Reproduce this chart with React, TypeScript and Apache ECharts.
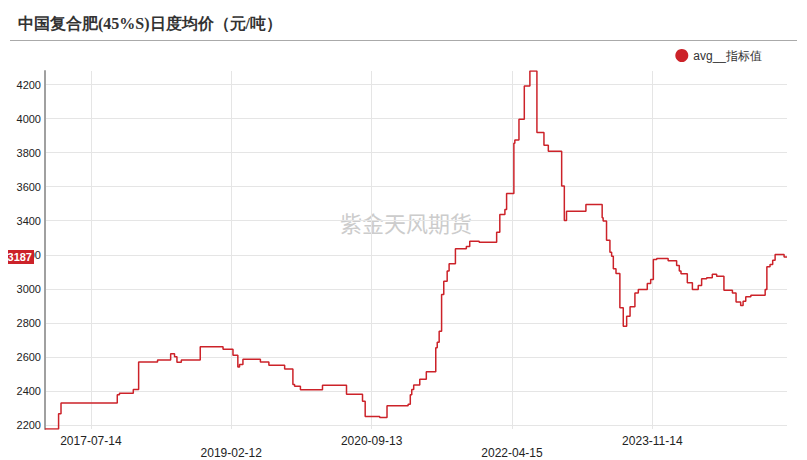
import React, { useEffect, useRef } from 'react';
import * as echarts from 'echarts';

const titleText = '中国复合肥(45%S)日度均价（元/吨）';
const seriesName = 'avg__指标值';
const watermarkText = '紫金天风期货';
const lastValue = 3187;

// change points (value holds until next date)
const dates: string[] = [
  '2017-01-06', '2017-03-03', '2017-03-13', '2017-10-31', '2017-11-09', '2018-01-05', '2018-01-27',
  '2018-04-15', '2018-06-08', '2018-06-24', '2018-07-04', '2018-07-22', '2018-10-08', '2019-01-10',
  '2019-02-20', '2019-03-12', '2019-03-19', '2019-04-02', '2019-06-13', '2019-07-18', '2019-09-21',
  '2019-10-25', '2019-11-01', '2019-11-25', '2020-02-24', '2020-06-02', '2020-08-07', '2020-08-18',
  '2020-10-17', '2020-11-16', '2021-02-11', '2021-02-20', '2021-02-26', '2021-03-06', '2021-03-31',
  '2021-04-27', '2021-06-05', '2021-06-11', '2021-06-19', '2021-06-29', '2021-07-08', '2021-07-22',
  '2021-07-30', '2021-08-25', '2021-10-09', '2021-10-23', '2021-12-01', '2022-02-11', '2022-02-24',
  '2022-03-17', '2022-03-24', '2022-04-23', '2022-04-27', '2022-05-14', '2022-06-05', '2022-06-28',
  '2022-07-27', '2022-08-25', '2022-09-12', '2022-11-06', '2022-11-17', '2022-11-26', '2023-02-14',
  '2023-04-22', '2023-04-26', '2023-05-10', '2023-05-24', '2023-05-31', '2023-06-07', '2023-06-18',
  '2023-07-04', '2023-07-18', '2023-08-01', '2023-08-15', '2023-09-04', '2023-09-18', '2023-10-25',
  '2023-11-08', '2023-11-19', '2023-12-03', '2024-01-19', '2024-02-23', '2024-03-05', '2024-03-12',
  '2024-04-07', '2024-04-28', '2024-05-22', '2024-06-05', '2024-06-26', '2024-07-19', '2024-08-06',
  '2024-09-05', '2024-10-10', '2024-10-25', '2024-11-13', '2024-11-23', '2024-12-04', '2024-12-25',
  '2025-02-22', '2025-03-01', '2025-03-14', '2025-03-25', '2025-04-04', '2025-05-11', '2025-05-23',
];

const values: number[] = [
  2176, 2265, 2329, 2378, 2386, 2408, 2570,
  2582, 2618, 2600, 2568, 2582, 2660, 2645,
  2610, 2541, 2555, 2586, 2570, 2551, 2529,
  2437, 2427, 2406, 2433, 2380, 2339, 2249,
  2243, 2313, 2321, 2378, 2408, 2435, 2468,
  2512, 2653, 2686, 2751, 2967, 3045, 3104,
  3147, 3235, 3248, 3280, 3274, 3333, 3437,
  3466, 3560, 3855, 3874, 3996, 4192, 4280,
  3918, 3843, 3808, 3604, 3402, 3456, 3496,
  3418, 3398, 3286, 3215, 3192, 3118, 3090,
  2888, 2780, 2839, 2894, 2976, 2996, 3031,
  3055, 3172, 3178, 3165, 3137, 3104, 3088,
  3035, 2996, 3019, 3059, 3065, 3086, 3074,
  2992, 2976, 2922, 2902, 2927, 2953, 2962,
  2996, 3129, 3143, 3168, 3202, 3187, 3187,
];

const pad = (n: number) => (n < 10 ? '0' + n : '' + n);
const fmtDate = (ms: number) => {
  const d = new Date(ms);
  return d.getUTCFullYear() + '-' + pad(d.getUTCMonth() + 1) + '-' + pad(d.getUTCDate());
};

const X_INTERVAL = 5e10;

export default function App() {
  const ref = useRef<HTMLDivElement>(null);
  useEffect(() => {
    if (!ref.current) return;
    const chart = echarts.init(ref.current, undefined, { renderer: 'svg' });
    const data = dates.map((d, i) => [Date.parse(d + 'T00:00:00Z'), values[i]]);
    chart.setOption({
      animation: false,
      backgroundColor: '#fff',
      textStyle: { fontFamily: 'Arial, "Liberation Sans", sans-serif' },
      title: {
        text: titleText,
        left: 13,
        top: 10,
        textStyle: { fontSize: 16, fontWeight: 'bold', color: '#333', fontFamily: 'serif' },
      },
      legend: {
        right: 40,
        top: 44,
        icon: 'circle',
        itemWidth: 13,
        itemHeight: 13,
        itemGap: 10,
        textStyle: { fontSize: 12, color: '#333' },
        data: [seriesName],
      },
      graphic: [
        {
          type: 'line',
          shape: { x1: 10, y1: 40.5, x2: 797, y2: 40.5 },
          style: { stroke: '#aaa', lineWidth: 1 },
          silent: true,
        },
        {
          type: 'text',
          x: 406,
          y: 222,
          z: 0,
          silent: true,
          style: {
            text: watermarkText,
            fill: '#cccccc',
            font: '22px "Noto Sans CJK SC", sans-serif',
            textAlign: 'center',
            textVerticalAlign: 'middle',
          },
        },
      ],
      grid: { left: 45, right: 20, top: 71, bottom: 31, containLabel: false },
      xAxis: {
        type: 'value',
        min: 'dataMin',
        max: 'dataMax',
        minInterval: X_INTERVAL,
        maxInterval: X_INTERVAL,
        axisLine: { show: false },
        axisTick: { show: false },
        splitLine: { show: true, showMinLine: false, showMaxLine: false, lineStyle: { color: '#e5e5e5', width: 1 } },
        axisLabel: {
          showMinLabel: false,
          showMaxLabel: false,
          margin: 6,
          fontSize: 12,
          lineHeight: 12,
          color: '#222',
          formatter: (v: number) => {
            const k = Math.round(v / X_INTERVAL);
            return (k % 2 === 1 ? '\n' : '') + fmtDate(v);
          },
        },
      },
      yAxis: {
        type: 'value',
        min: 'dataMin',
        max: 'dataMax',
        minInterval: 200,
        maxInterval: 200,
        axisLine: { show: true, lineStyle: { color: '#a0a0a0', width: 2 } },
        axisTick: { show: false },
        splitLine: { show: true, showMinLine: false, showMaxLine: false, lineStyle: { color: '#e5e5e5', width: 1 } },
        axisLabel: {
          showMinLabel: false,
          showMaxLabel: false,
          margin: 4,
          fontSize: 11,
          color: '#222',
          formatter: (v: number) => String(v),
        },
      },
      series: [
        {
          name: seriesName,
          type: 'line',
          step: 'end',
          data,
          showSymbol: false,
          symbol: 'none',
          z: 3,
          itemStyle: { color: '#cc2229' },
          lineStyle: { color: '#cc2229', width: 1.5 },
          markLine: {
            silent: true,
            symbol: 'none',
            lineStyle: { color: 'rgba(0,0,0,0)', width: 1, type: 'solid' },
            emphasis: { disabled: true },
            data: [{ yAxis: lastValue }],
            label: {
              show: true,
              position: 'start',
              distance: 11,
              formatter: String(lastValue),
              color: '#fff',
              fontWeight: 'bold',
              fontSize: 11,
              backgroundColor: '#cc2229',
              padding: [2, 2, 1, 2],
            },
          },
        },
      ],
    });
    return () => chart.dispose();
  }, []);
  return <div ref={ref} style={{ width: 807, height: 460, marginLeft: -8, marginTop: -8 }} />;
}
